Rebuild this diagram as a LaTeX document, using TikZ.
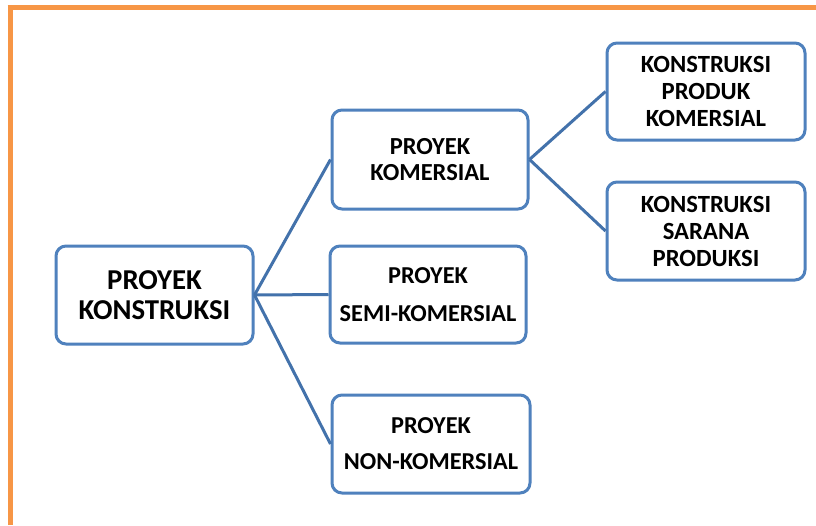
\documentclass[tikz,border=0pt]{standalone}
\usepackage{fontspec}
\setmainfont{Carlito}
\definecolor{boxblue}{HTML}{4F81BD}
\definecolor{lineblue}{HTML}{4372AB}
\definecolor{frameorange}{HTML}{F79646}
\begin{document}
\begin{tikzpicture}[x=1pt,y=-1pt,
  box/.style={draw=boxblue,line width=3pt,rounded corners=10pt,fill=white,inner sep=0pt,align=center,font=\bfseries},
  conn/.style={draw=lineblue,line width=3pt}]
\useasboundingbox (0,0) rectangle (816,525);
\fill[white] (0,0) rectangle (816,525);
\draw[frameorange,line width=5pt] (10,525) -- (10,5) ;
\draw[frameorange,line width=5pt] (7.5,7.5) -- (816,7.5);
\node[box,minimum width=197pt,minimum height=98pt,font=\bfseries\fontsize{28.8}{30}\selectfont] (root) at (154.5,295) {PROYEK\\KONSTRUKSI};
\node[box,minimum width=196pt,minimum height=99pt,font=\bfseries\fontsize{24.5}{26}\selectfont] (kom) at (430,159.5) {PROYEK\\KOMERSIAL};
\node[box,minimum width=196pt,minimum height=97pt,font=\bfseries\fontsize{24.3}{38}\selectfont] (semi) at (428,294.5) {PROYEK\\SEMI-KOMERSIAL};
\node[box,minimum width=198pt,minimum height=98pt,font=\bfseries\fontsize{24.3}{36}\selectfont] (non) at (431,444) {PROYEK\\NON-KOMERSIAL};
\node[box,minimum width=198pt,minimum height=97pt,font=\bfseries\fontsize{24.7}{27}\selectfont] (kpk) at (706,91.5) {KONSTRUKSI\\PRODUK\\KOMERSIAL};
\node[box,minimum width=198pt,minimum height=98pt,font=\bfseries\fontsize{24.7}{27}\selectfont] (ksp) at (706,231) {KONSTRUKSI\\SARANA\\PRODUKSI};
\draw[conn] (root.east) -- (kom.west);
\draw[conn] (root.east) -- (semi.west);
\draw[conn] (root.east) -- (non.west);
\draw[conn] (kom.east) -- (kpk.west);
\draw[conn] (kom.east) -- (ksp.west);
\end{tikzpicture}
\end{document}
